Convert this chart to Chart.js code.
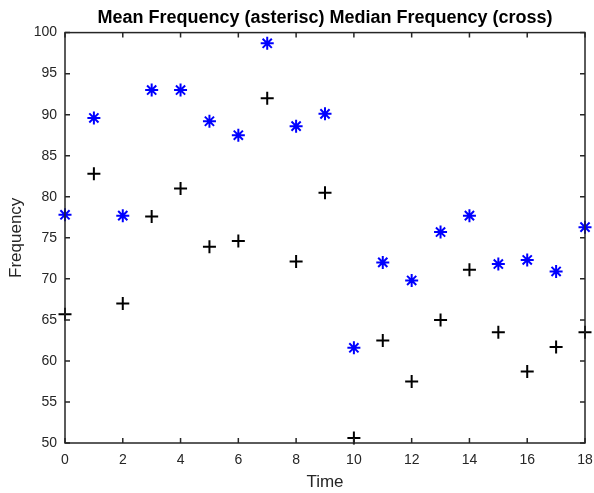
<!DOCTYPE html>
<html>
<head>
<script src="https://cdn.jsdelivr.net/npm/chart.js@4"></script>
<style>
  body { margin: 0; background: #fff; }
  #wrap { width: 594px; height: 493px; }
</style>
</head>
<body>
<div id="wrap"><canvas id="freq"></canvas></div>

<script>
  // values
  const times = [0, 1, 2, 3, 4, 5, 6, 7, 8, 9, 10, 11, 12, 13, 14, 15, 16, 17, 18];
  const meanFreq = [77.8, 89.6, 77.7, 93.0, 93.0, 89.2, 87.5, 98.7, 88.6, 90.1, 61.6, 72.0, 69.8, 75.7, 77.7, 71.8, 72.3, 70.9, 76.3];
  const medianFreq = [65.7, 82.8, 67.0, 77.6, 81.0, 73.9, 74.6, 92.0, 72.1, 80.5, 50.6, 62.5, 57.5, 65.0, 71.1, 63.5, 58.7, 61.7, 63.5];

  const textColor = '#262626';
  const font = 'Liberation Sans, Arial, Helvetica, sans-serif';

  function toPoints(ys) {
    return times.map(function(t, i) {
      return { x: t, y: ys[i] };
    });
  }

  // box round the axes and inward ticks, matlab style
  const boxTicks = {
    id: 'boxTicks',
    afterDraw(chart) {
      const ctx = chart.ctx;
      const a = chart.chartArea;
      const xs = chart.scales.x;
      const ys = chart.scales.y;
      const len = 5;
      ctx.save();
      ctx.strokeStyle = textColor;
      ctx.lineWidth = 1.5;
      ctx.strokeRect(a.left, a.top, a.right - a.left, a.bottom - a.top);
      ctx.beginPath();
      xs.ticks.forEach(function(t) {
        const px = xs.getPixelForValue(t.value);
        ctx.moveTo(px, a.bottom); ctx.lineTo(px, a.bottom - len);
        ctx.moveTo(px, a.top); ctx.lineTo(px, a.top + len);
      });
      ys.ticks.forEach(function(t) {
        const py = ys.getPixelForValue(t.value);
        ctx.moveTo(a.left, py); ctx.lineTo(a.left + len, py);
        ctx.moveTo(a.right, py); ctx.lineTo(a.right - len, py);
      });
      ctx.stroke();
      ctx.restore();
    }
  };

  new Chart(document.getElementById('freq'), {
    type: 'scatter',
    data: {
      datasets: [{
        label: 'Mean',
        data: toPoints(meanFreq),
        pointStyle: 'star',
        pointRadius: 6.5,
        borderColor: '#0000ff',
        backgroundColor: '#0000ff',
        borderWidth: 2,
        clip: false
      }, {
        label: 'Median',
        data: toPoints(medianFreq),
        pointStyle: 'cross',
        pointRadius: 6.5,
        borderColor: '#000000',
        backgroundColor: '#000000',
        borderWidth: 2,
        clip: false
      }]
    },
    options: {
      responsive: true,
      maintainAspectRatio: false,
      animation: false,
      events: [],
      layout: { padding: { left: 0, right: 9, top: 0, bottom: 0 } },
      plugins: {
        legend: { display: false },
        tooltip: { enabled: false },
        title: {
          display: true,
          fullSize: false,
          text: 'Mean Frequency (asterisc) Median Frequency (cross)',
          color: '#000000',
          font: { family: font, size: 18, weight: 'bold' },
          padding: { top: 7, bottom: 4 }
        }
      },
      scales: {
        x: {
          type: 'linear',
          min: 0,
          max: 18,
          grid: { display: false, drawTicks: false },
          border: { display: false },
          ticks: { stepSize: 2, color: textColor, padding: 9, font: { family: font, size: 14 } },
          title: { display: true, text: 'Time', color: textColor, font: { family: font, size: 17 }, padding: { top: 3, bottom: 0 } },
          afterFit(scale) {
            scale.height = 50;
            scale.paddingLeft = 0;
            scale.paddingRight = 0;
          }
        },
        y: {
          min: 50,
          max: 100,
          grid: { display: false, drawTicks: false },
          border: { display: false },
          ticks: { stepSize: 5, color: textColor, padding: 8, font: { family: font, size: 14 } },
          title: { display: true, text: 'Frequency', color: textColor, font: { family: font, size: 17 }, padding: { top: 6, bottom: 4 } },
          afterFit(scale) {
            scale.width = 65;
            scale.paddingTop = 0;
            scale.paddingBottom = 0;
          }
        }
      }
    },
    plugins: [boxTicks]
  });
</script>
</body>
</html>
